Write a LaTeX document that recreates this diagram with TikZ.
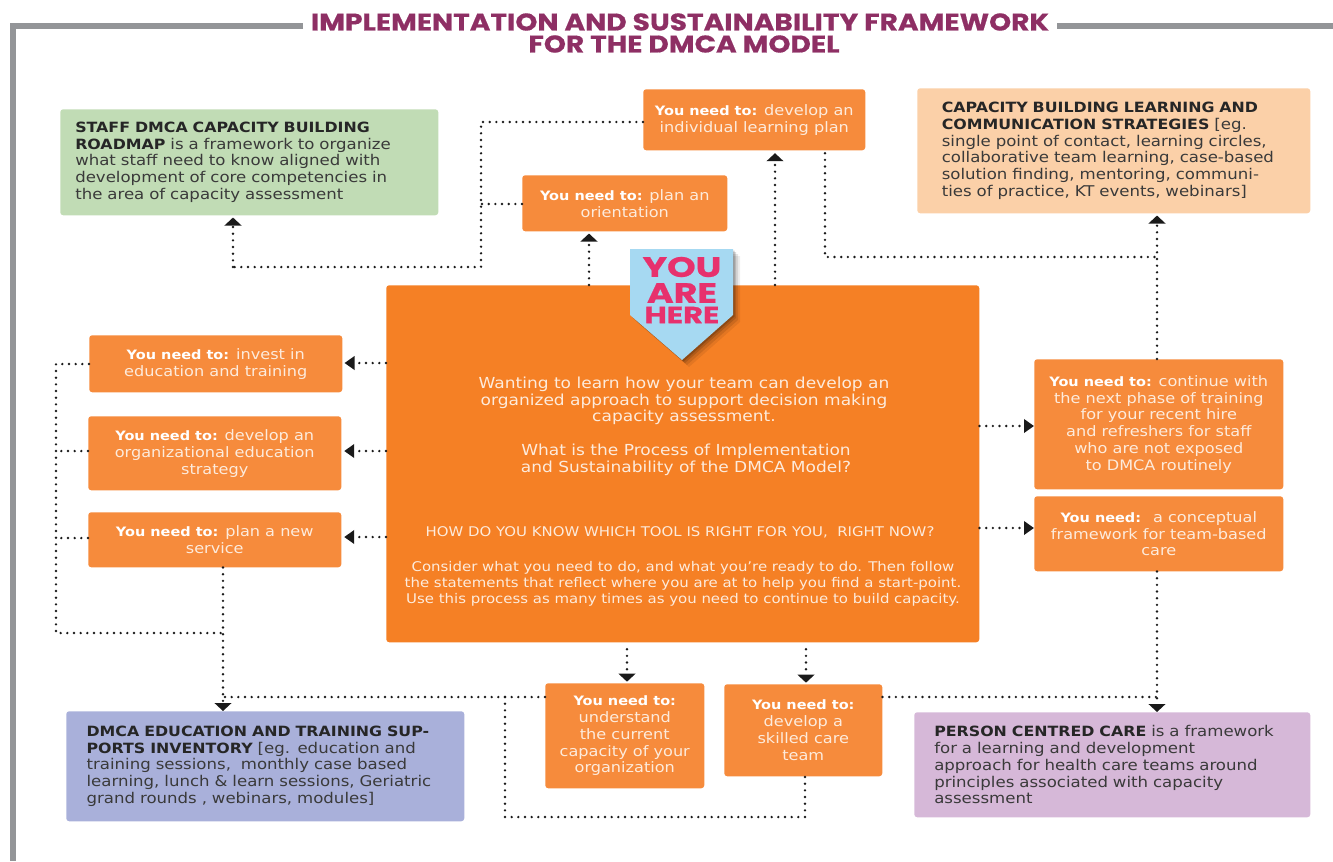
\documentclass[tikz,border=0pt]{standalone}
\usepackage{fontspec}
\setmainfont{DejaVu Sans}[FakeStretch=1.12]
\newfontfamily\titlefont{Poppins}[FakeStretch=1.17,BoldFeatures={FakeBold=0.6}]
\newfontfamily\badgefont{Poppins}[FakeStretch=1.3,BoldFeatures={FakeBold=0.8}]
\usetikzlibrary{arrows.meta,calc}
\definecolor{framegray}{HTML}{939598}
\definecolor{titlecol}{HTML}{8E2F64}
\definecolor{herecol}{HTML}{E7316D}
\definecolor{badgecol}{HTML}{A6D9F2}
\definecolor{mainor}{HTML}{F58025}
\definecolor{smallor}{HTML}{F68B3C}
\definecolor{greenbox}{HTML}{C1DCB5}
\definecolor{peachbox}{HTML}{FBD0A8}
\definecolor{bluebox}{HTML}{A9B0DA}
\definecolor{purplebox}{HTML}{D6B8D8}
\definecolor{softwhite}{HTML}{FDEBDC}
\definecolor{darktxt}{HTML}{3A3A3A}
\definecolor{dots}{HTML}{1A1A1A}
\newcommand{\yn}[1]{{\fontsize{9.7}{12.6}\selectfont\bfseries\color{white}#1}}
\newcommand{\dk}[1]{{\fontsize{10.6}{12.6}\selectfont\bfseries\color{black!85}#1}}
\tikzset{
  box/.style={rectangle,rounded corners=2.2pt,inner sep=0pt,anchor=north west},
  orbox/.style={box,fill=smallor,text=softwhite,align=center,font=\fontsize{10.8}{12.6}\selectfont},
  infobox/.style={box,text=darktxt,align=left,font=\fontsize{11.1}{12.6}\selectfont},
  conn/.style={draw=dots,line width=2pt,line cap=round,dash pattern=on 0pt off 5pt},
  tipv/.style={conn,-{Triangle[width=12.5pt,length=6pt,sep=0pt]}},
  tiph/.style={conn,-{Triangle[width=10pt,length=7.5pt,sep=0pt]}},
  frameline/.style={draw=framegray,line width=3.8pt},
  maintext/.style={text=softwhite,align=center,inner sep=0pt},
}
\begin{document}
\begin{tikzpicture}[x=0.75pt,y=-0.75pt]
\useasboundingbox (0,0) rectangle (1333,861);
% frame
\coordinate (fa) at (303,26); \coordinate (fb) at (13,26); \coordinate (fc) at (13,861);
\coordinate (fd) at (1057,26); \coordinate (fe) at (1333,26);
\draw[frameline] (fa) -- (fb) -- (fc);
\draw[frameline] (fd) -- (fe);
% title
\node[inner sep=0pt,text=titlecol,align=center,font=\titlefont\bfseries\fontsize{18}{16.5}\selectfont] (title) at (680,33) {IMPLEMENTATION AND SUSTAINABILITY FRAMEWORK\\\hspace*{6pt}FOR THE DMCA MODEL};
% boxes
\node[infobox,fill=greenbox,minimum width=283.5pt,minimum height=79.5pt,text width=261pt,inner xsep=11pt] (green) at (60,109) {\dk{STAFF DMCA CAPACITY BUILDING}\\\dk{ROADMAP} is a framework to organize\\what staff need to know aligned with\\development of core competencies in\\the area of capacity assessment};
\node[infobox,fill=peachbox,minimum width=294.75pt,minimum height=93.75pt,text width=258pt,inner xsep=18pt] (peach) at (917,88) {\dk{CAPACITY BUILDING LEARNING AND}\\\dk{COMMUNICATION STRATEGIES} [eg.\\single point of contact, learning circles,\\collaborative team learning, case-based\\solution finding, mentoring, communi-\\ties of practice, KT events, webinars]};
\node[infobox,fill=bluebox,minimum width=298.5pt,minimum height=82.5pt,text width=268pt,inner xsep=15pt] (blue) at (66,711) {\dk{DMCA EDUCATION AND TRAINING SUP-}\\\dk{PORTS INVENTORY} [eg. education and\\training sessions,~ monthly case based\\learning, lunch \& learn sessions, Geriatric\\grand rounds , webinars, modules]};
\node[infobox,fill=purplebox,minimum width=297pt,minimum height=78.75pt,text width=267pt,inner xsep=15pt] (purple) at (914,712) {\dk{PERSON CENTRED CARE} is a framework\\for a learning and development\\approach for health care teams around\\principles associated with capacity\\assessment};
\node[orbox,minimum width=166.5pt,minimum height=45.75pt] (indiv) at (643,89) {\yn{You need to:} develop an\\individual learning plan};
\node[orbox,minimum width=153.75pt,minimum height=42pt] (orient) at (522,175) {\yn{You need to:} plan an\\orientation};
\node[orbox,minimum width=189.75pt,minimum height=42.75pt] (invest) at (89,335) {\yn{You need to:} invest in\\education and training};
\node[orbox,minimum width=189.75pt,minimum height=55.5pt] (strategy) at (88,416) {\yn{You need to:} develop an\\organizational education\\strategy};
\node[orbox,minimum width=189.75pt,minimum height=41.25pt] (service) at (88,512) {\yn{You need to:} plan a new\\service};
\node[orbox,minimum width=186.75pt,minimum height=97.5pt] (continue) at (1034,359) {\yn{You need to:} continue with\\the next phase of training\\for your recent hire\\and refreshers for staff\\who are not exposed\\to DMCA routinely};
\node[orbox,minimum width=186.75pt,minimum height=56.25pt] (concept) at (1034,496) {\yn{You need:}~ a conceptual\\framework for team-based\\care};
\node[orbox,minimum width=119.25pt,minimum height=78.75pt] (underst) at (545,683) {\yn{You need to:}\\understand\\the current\\capacity of your\\organization};
\node[orbox,minimum width=118.5pt,minimum height=69pt] (skilled) at (724,684) {\yn{You need to:}\\develop a\\skilled care\\team};
% main box
\node[box,fill=mainor,minimum width=444.75pt,minimum height=267.75pt] (main) at (386,285) {};
\node[maintext,font=\fontsize{11.4}{12.5}\selectfont] (mt1) at (684,401) {Wanting to learn how your team can develop an\\organized approach to support decision making\\capacity assessment.};
\node[maintext,font=\fontsize{11.4}{12.5}\selectfont] (mt2) at (686,460) {What is the Process of Implementation\\and Sustainability of the DMCA Model?};
\node[maintext,font=\fontsize{10}{10}\selectfont] (mt3) at (680,532) {HOW DO YOU KNOW WHICH TOOL IS RIGHT FOR YOU,~ RIGHT NOW?};
\node[maintext,font=\fontsize{10}{12}\selectfont] (mt4) at (683,584) {Consider what you need to do, and what you're ready to do. Then follow\\the statements that reflect where you are at to help you find a start-point.\\Use this process as many times as you need to continue to build capacity.};
% badge
\foreach \o/\q in {7/.07,5/.10,3/.14,1.5/.18}{
  \fill[black,opacity=\q] (630+\o,249+\o) -- (733+\o,249+\o) -- (733+\o,315+\o) -- (682+\o,360+\o) -- (630+\o,315+\o) -- cycle;
}
\fill[badgecol] (630,249) -- (733,249) -- (733,315) -- (682,360) -- (630,315) -- cycle;
\node[inner sep=0pt,text=herecol,font=\badgefont\bfseries\fontsize{21}{21}\selectfont] (you) at (682,267) {YOU};
\node[inner sep=0pt,text=herecol,font=\badgefont\bfseries\fontsize{21}{21}\selectfont] (are) at (682,293) {ARE};
\node[inner sep=0pt,text=herecol,font=\badgefont\bfseries\fontsize{17.5}{18}\selectfont] (here) at (682,315) {HERE};
% level coordinates
\coordinate (j1) at (481,122);
\coordinate (j2) at (481,204);
\coordinate (j3) at (481,267);
\coordinate (j4) at (233,267);
\coordinate (r1) at (825,257);
\coordinate (r2) at (1157,257);
\coordinate (l1) at (56,364);
\coordinate (l2) at (56,451);
\coordinate (l3) at (56,538);
\coordinate (l4) at (56,633);
\coordinate (l5) at (223,633);
\coordinate (b1) at (223,697);
\coordinate (b2) at (505,697);
\coordinate (b3) at (505,817);
\coordinate (b4) at (805,817);
\coordinate (p1) at (1157,697);
\coordinate (ax1) at (589,0);
\coordinate (ax2) at (775,0);
\coordinate (ay1) at (0,363);
\coordinate (ay2) at (0,451);
\coordinate (ay3) at (0,537);
\coordinate (ay4) at (0,426);
\coordinate (ay5) at (0,528);
\coordinate (ax3) at (627,0);
\coordinate (ax4) at (806,0);
% connectors upper
\path[conn] (indiv.west |- j1) -- (j1) -- (j3) -- (j4);
\path[tipv,shorten >=1.5pt] (j4) -- (j4 |- green.south);
\path[conn] (orient.west |- j2) -- (j2);
\path[tipv,shorten >=1.5pt] (ax1 |- main.north) -- (ax1 |- orient.south);
\path[tipv,shorten >=2pt] (ax2 |- main.north) -- (ax2 |- indiv.south);
\path[conn,shorten <=2pt] (r1 |- indiv.south) -- (r1) -- (r2);
\path[tipv,shorten >=1.5pt] (r2 |- continue.north) -- (r2 |- peach.south);
% connectors left
\path[tiph,shorten >=1.5pt] (main.west |- ay1) -- (invest.east |- ay1);
\path[tiph,shorten >=2pt] (main.west |- ay2) -- (strategy.east |- ay2);
\path[tiph,shorten >=2pt] (main.west |- ay3) -- (service.east |- ay3);
\path[conn] (invest.west |- l1) -- (l1) -- (l4) -- (l5);
\path[conn] (strategy.west |- l2) -- (l2);
\path[conn] (service.west |- l3) -- (l3);
\path[tipv] (l5 |- service.south) -- (l5 |- blue.north);
% connectors right
\path[tiph] (main.east |- ay4) -- (continue.west |- ay4);
\path[tiph] (main.east |- ay5) -- (concept.west |- ay5);
\path[tipv] (p1 |- concept.south) -- (p1 |- purple.north);
% connectors bottom
\path[tipv,shorten >=1pt,shorten <=5pt] (ax3 |- main.south) -- (ax3 |- underst.north);
\path[tipv,shorten >=1pt,shorten <=5pt] (ax4 |- main.south) -- (ax4 |- skilled.north);
\path[conn] (underst.west |- b2) -- (b1);
\path[conn] (b2) -- (b3) -- (b4) -- (b4 |- skilled.south);
\path[conn] (skilled.east |- p1) -- (p1);
\end{tikzpicture}
\end{document}
